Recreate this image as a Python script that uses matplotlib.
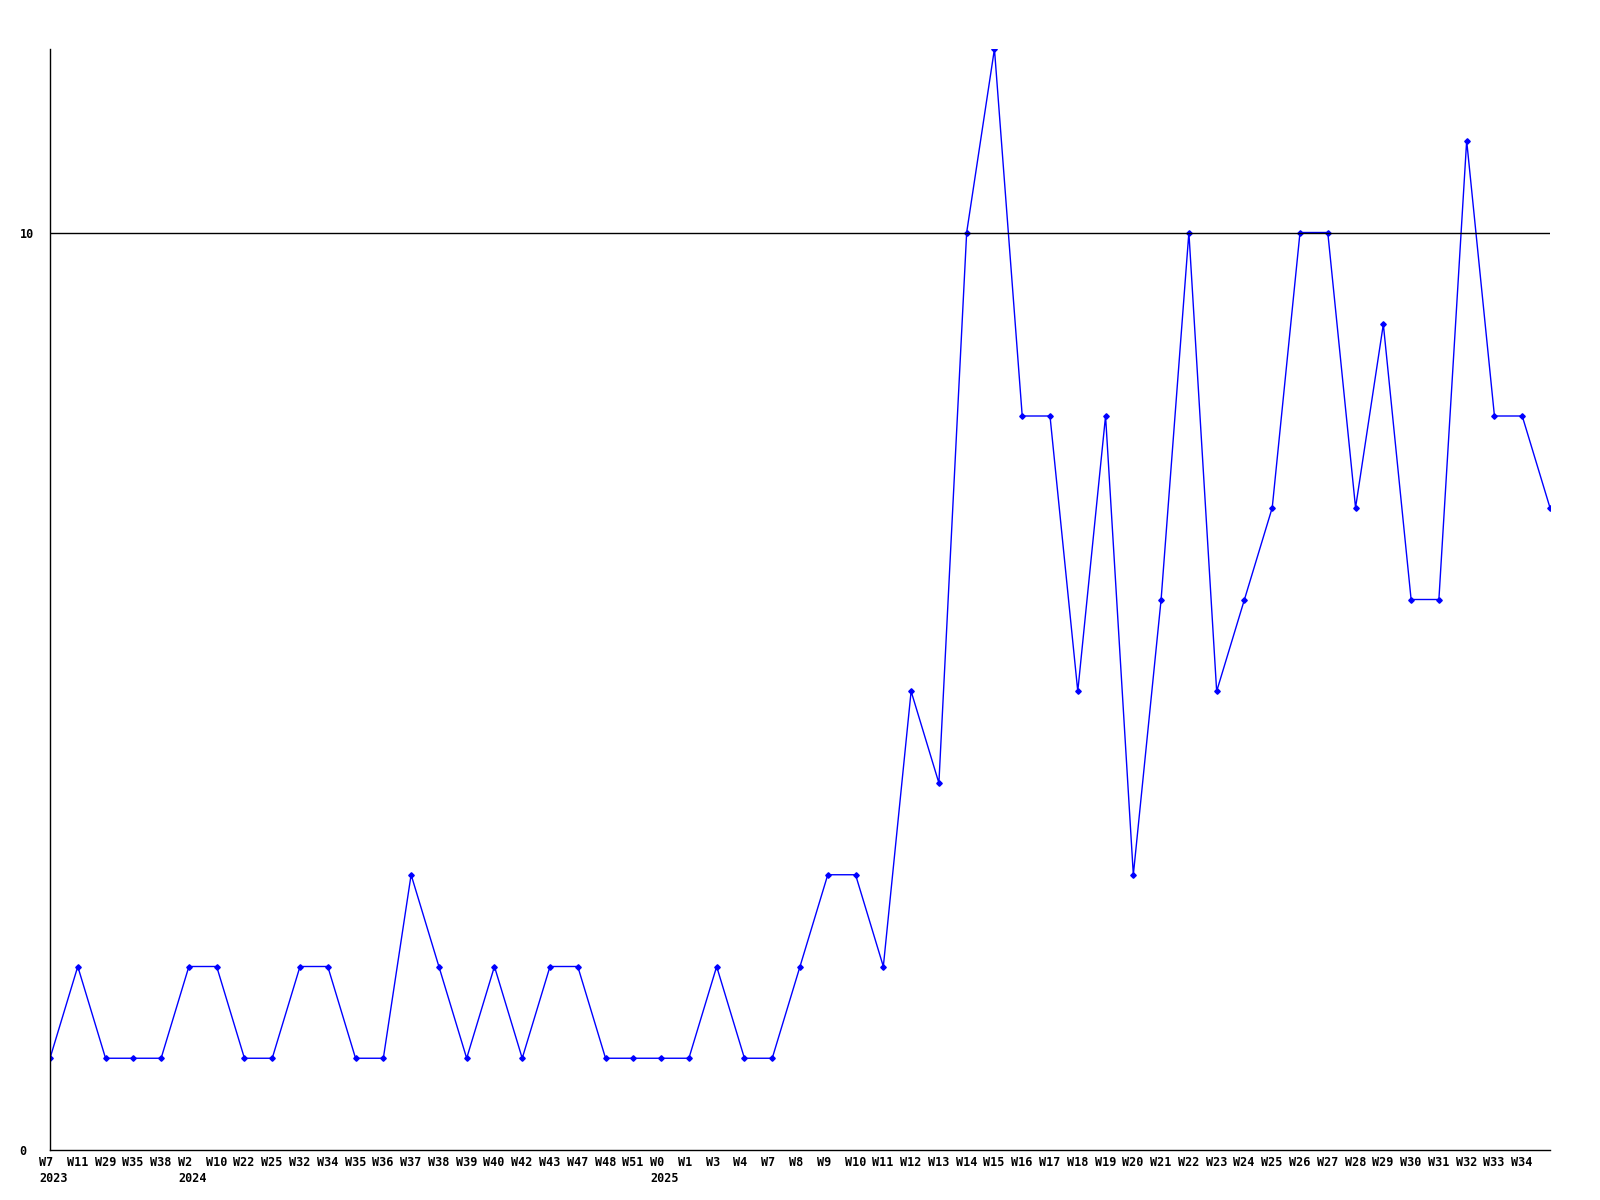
import matplotlib
matplotlib.use("Agg")
import matplotlib.pyplot as plt
import matplotlib.transforms as mtransforms

weeks = ["W7", "W11", "W29", "W35", "W38",
         "W2", "W10", "W22", "W25", "W32", "W34", "W35", "W36", "W37", "W38",
         "W39", "W40", "W42", "W43", "W47", "W48", "W51",
         "W0", "W1", "W3", "W4", "W7", "W8", "W9", "W10", "W11", "W12", "W13",
         "W14", "W15", "W16", "W17", "W18", "W19", "W20", "W21", "W22", "W23",
         "W24", "W25", "W26", "W27", "W28", "W29", "W30", "W31", "W32", "W33",
         "W34"]
years = {0: "2023", 5: "2024", 22: "2025"}
values = [1, 2, 1, 1, 1,
          2, 2, 1, 1, 2, 2, 1, 1, 3, 2,
          1, 2, 1, 2, 2, 1, 1,
          1, 1, 2, 1, 1, 2, 3, 3, 2, 5, 4,
          10, 12, 8, 8, 5, 8, 3, 6, 10, 5,
          6, 7, 10, 10, 7, 9, 6, 6, 11, 8,
          8, 7]
ref_value = 10

fig = plt.figure(figsize=(16, 12), dpi=100)
ax = fig.add_axes([50 / 1600, 1 - 1150 / 1200, 1500 / 1600, 1101 / 1200])

x = list(range(len(values)))
ax.plot(x, values, color="#0000ff", linewidth=1, marker="D", markersize=2.8)
ax.axhline(ref_value, color="black", linewidth=1)

ax.set_xlim(0, len(values) - 1)
ax.set_ylim(0, 12)

for s in ["top", "right"]:
    ax.spines[s].set_visible(False)
for s in ["left", "bottom"]:
    ax.spines[s].set_color("black")
    ax.spines[s].set_linewidth(1)

font = dict(family="DejaVu Sans Mono", weight="bold", size=8.5)

# week labels, with the year under the first week of each year
labels = [w + ("\n" + years[i] if i in years else "") for i, w in enumerate(weeks)]
ax.set_xticks(range(len(weeks)))
ax.set_xticklabels(labels, ha="left", va="top", linespacing=1.3, **font)
ax.tick_params(axis="x", length=0, pad=4.5)
shift = mtransforms.ScaledTranslation(-11 / 100, 0, fig.dpi_scale_trans)
for lab in ax.get_xticklabels():
    lab.set_transform(lab.get_transform() + shift)

ax.set_yticks([0, 10])
ax.set_yticklabels(["0", "10"], ha="left", **font)
ax.tick_params(axis="y", length=0, pad=22)

fig.savefig("out.png", dpi=100)
